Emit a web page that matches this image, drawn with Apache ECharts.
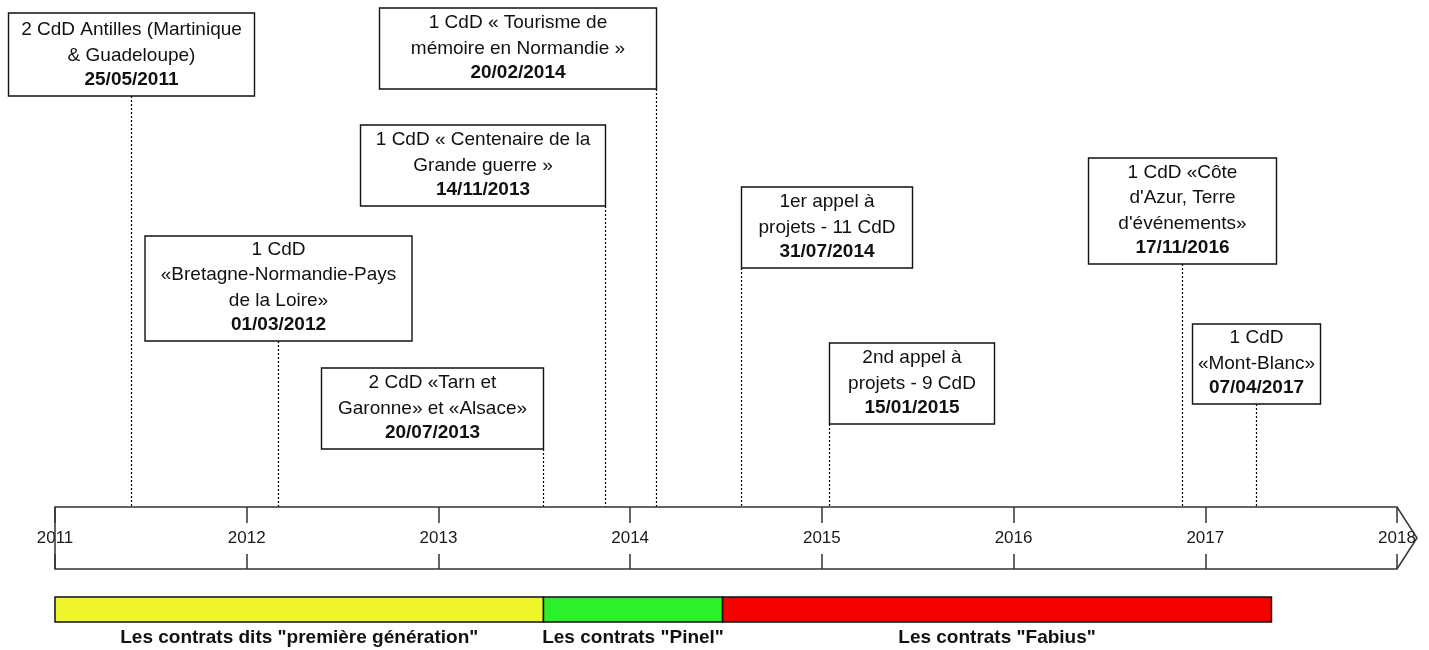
<!DOCTYPE html>
<html>
<head>
<meta charset="utf-8">
<script src="https://cdn.jsdelivr.net/npm/echarts@6/dist/echarts.min.js"></script>
<style>
html,body{margin:0;padding:0;background:#fff;}
#chart{width:1429px;height:650px;}
</style>
</head>
<body>
<div id="chart"></div>
<script>
// ---------- DATA ----------
const axisMin = 2011;
const axisMax = 2018;

const eventDates = ['25/05/2011', '01/03/2012', '20/07/2013', '14/11/2013', '20/02/2014',
                    '31/07/2014', '15/01/2015', '17/11/2016', '07/04/2017'];

const eventTexts = [
  ['2 CdD Antilles (Martinique', '& Guadeloupe)'],
  ['1 CdD', '«Bretagne-Normandie-Pays', 'de la Loire»'],
  ['2 CdD «Tarn et', 'Garonne» et «Alsace»'],
  ['1 CdD « Centenaire de la', 'Grande guerre »'],
  ['1 CdD « Tourisme de', 'mémoire en Normandie »'],
  ['1er appel à', 'projets - 11 CdD'],
  ['2nd appel à', 'projets - 9 CdD'],
  ['1 CdD «Côte', "d'Azur, Terre", "d'événements»"],
  ['1 CdD', '«Mont-Blanc»']
];

const phaseNames  = ['Les contrats dits "première génération"', 'Les contrats "Pinel"', 'Les contrats "Fabius"'];
const phaseStarts = ['01/01/2011', '20/07/2013', '26/06/2014'];
const phaseEnds   = ['20/07/2013', '26/06/2014', '07/05/2017'];
const phaseColors = ['#eef52a', '#2cf02a', '#f50000'];

// ---------- LAYOUT (pixels, not data) ----------
const boxTops    = [13, 236, 368, 125, 8, 187, 343, 158, 324];
const boxWidths  = [246, 267, 222, 245, 277, 171, 165, 188, 128];
const boxHeights = [83, 105, 81, 81, 81, 81, 81, 106, 80];
const boxAnchors = ['center', 'center', 'right', 'right', 'right', 'left', 'left', 'center', 'center'];

const FONT = '"Liberation Sans", Arial, sans-serif';
const INK = '#111111';

function toYear(s) {
  const p = s.split('/').map(Number);
  const d = p[0], m = p[1], y = p[2];
  const start = Date.UTC(y, 0, 1), end = Date.UTC(y + 1, 0, 1);
  return y + (Date.UTC(y, m - 1, d) - start) / (end - start);
}

const eventData = eventDates.map((d, i) => [toYear(d), i]);
const phaseData = phaseNames.map((n, i) => [toYear(phaseStarts[i]), toYear(phaseEnds[i]), i]);

const chart = echarts.init(document.getElementById('chart'), null, {renderer: 'canvas'});

const option = {
  backgroundColor: '#ffffff',
  animation: false,
  grid: [
    {left: 55, right: 32, top: 507, height: 62},
    {left: 55, right: 32, top: 597, height: 25}
  ],
  xAxis: [
    {
      gridIndex: 0, type: 'value', min: axisMin, max: axisMax, interval: 1, position: 'bottom',
      axisLine: {show: false},
      axisTick: {show: true, inside: true, length: 15, lineStyle: {color: '#333', width: 1.5}},
      axisLabel: {
        show: true, inside: true, margin: 31, verticalAlign: 'middle',
        fontSize: 17, fontFamily: FONT, color: '#1a1a1a',
        showMinLabel: true, showMaxLabel: true,
        formatter: v => String(v)
      },
      splitLine: {show: false}
    },
    {
      gridIndex: 0, type: 'value', min: axisMin, max: axisMax, interval: 1, position: 'top',
      axisLine: {show: false},
      axisTick: {show: true, inside: true, length: 16, lineStyle: {color: '#333', width: 1.5}},
      axisLabel: {show: false},
      splitLine: {show: false}
    },
    {
      gridIndex: 1, type: 'value', min: axisMin, max: axisMax, show: false
    }
  ],
  yAxis: [
    {gridIndex: 0, type: 'value', min: 0, max: 1, show: false},
    {gridIndex: 1, type: 'value', min: 0, max: 1, show: false}
  ],
  series: [
    {
      // timeline band outline with arrow tip
      type: 'custom', xAxisIndex: 0, yAxisIndex: 0, clip: false, silent: true, z: 3,
      data: [[axisMin, axisMax]],
      renderItem: function (params, api) {
        const tl = api.coord([api.value(0), 1]);
        const tr = api.coord([api.value(1), 1]);
        const br = api.coord([api.value(1), 0]);
        const bl = api.coord([api.value(0), 0]);
        const tip = [tr[0] + 20, (tr[1] + br[1]) / 2];
        return {
          type: 'polygon',
          shape: {points: [tl, tr, tip, br, bl]},
          style: {fill: 'none', stroke: '#333', lineWidth: 1.5}
        };
      }
    },
    {
      // event boxes with dotted leader lines
      type: 'custom', xAxisIndex: 0, yAxisIndex: 0, clip: false, silent: true, z: 2,
      data: eventData,
      renderItem: function (params, api) {
        const i = api.value(1);
        const p = api.coord([api.value(0), 1]);
        const x = Math.round(p[0]) + 0.5, bandTop = p[1];
        const w = boxWidths[i], h = boxHeights[i], top = boxTops[i];
        let left;
        if (boxAnchors[i] === 'center') left = x - w / 2;
        else if (boxAnchors[i] === 'right') left = x - w;
        else left = x;
        const bottom = top + h;
        const cx = left + w / 2;
        const children = [
          {
            type: 'line',
            shape: {x1: x, y1: bottom, x2: x, y2: bandTop},
            style: {stroke: '#000', lineWidth: 1.2, lineDash: [2, 2]}
          },
          {
            type: 'rect',
            shape: {x: left, y: top, width: w, height: h},
            style: {fill: '#fff', stroke: INK, lineWidth: 1.4}
          }
        ];
        const lines = eventTexts[i];
        const dateY = bottom - 16;
        const n = lines.length;
        lines.forEach((t, k) => {
          children.push({
            type: 'text',
            style: {
              text: t, x: cx, y: dateY + 1 - (n - k) * 25.5,
              fill: INK, fontSize: 19, fontFamily: FONT,
              align: 'center', verticalAlign: 'middle'
            }
          });
        });
        children.push({
          type: 'text',
          style: {
            text: eventDates[i], x: cx, y: dateY,
            fill: INK, fontSize: 19, fontWeight: 'bold', fontFamily: FONT,
            align: 'center', verticalAlign: 'middle'
          }
        });
        return {type: 'group', children: children};
      }
    },
    {
      // contract phases
      type: 'custom', xAxisIndex: 2, yAxisIndex: 1, clip: false, silent: true,
      data: phaseData,
      renderItem: function (params, api) {
        const i = api.value(2);
        const a = api.coord([api.value(0), 1]);
        const b = api.coord([api.value(1), 0]);
        return {
          type: 'group',
          children: [
            {
              type: 'rect',
              shape: {x: a[0], y: a[1], width: b[0] - a[0], height: b[1] - a[1]},
              style: {fill: phaseColors[i], stroke: '#111', lineWidth: 1.5}
            },
            {
              type: 'text',
              style: {
                text: phaseNames[i], x: (a[0] + b[0]) / 2, y: b[1] + 16,
                fill: INK, fontSize: 19, fontWeight: 'bold', fontFamily: FONT,
                align: 'center', verticalAlign: 'middle'
              }
            }
          ]
        };
      }
    }
  ]
};

chart.setOption(option);
</script>
</body>
</html>
